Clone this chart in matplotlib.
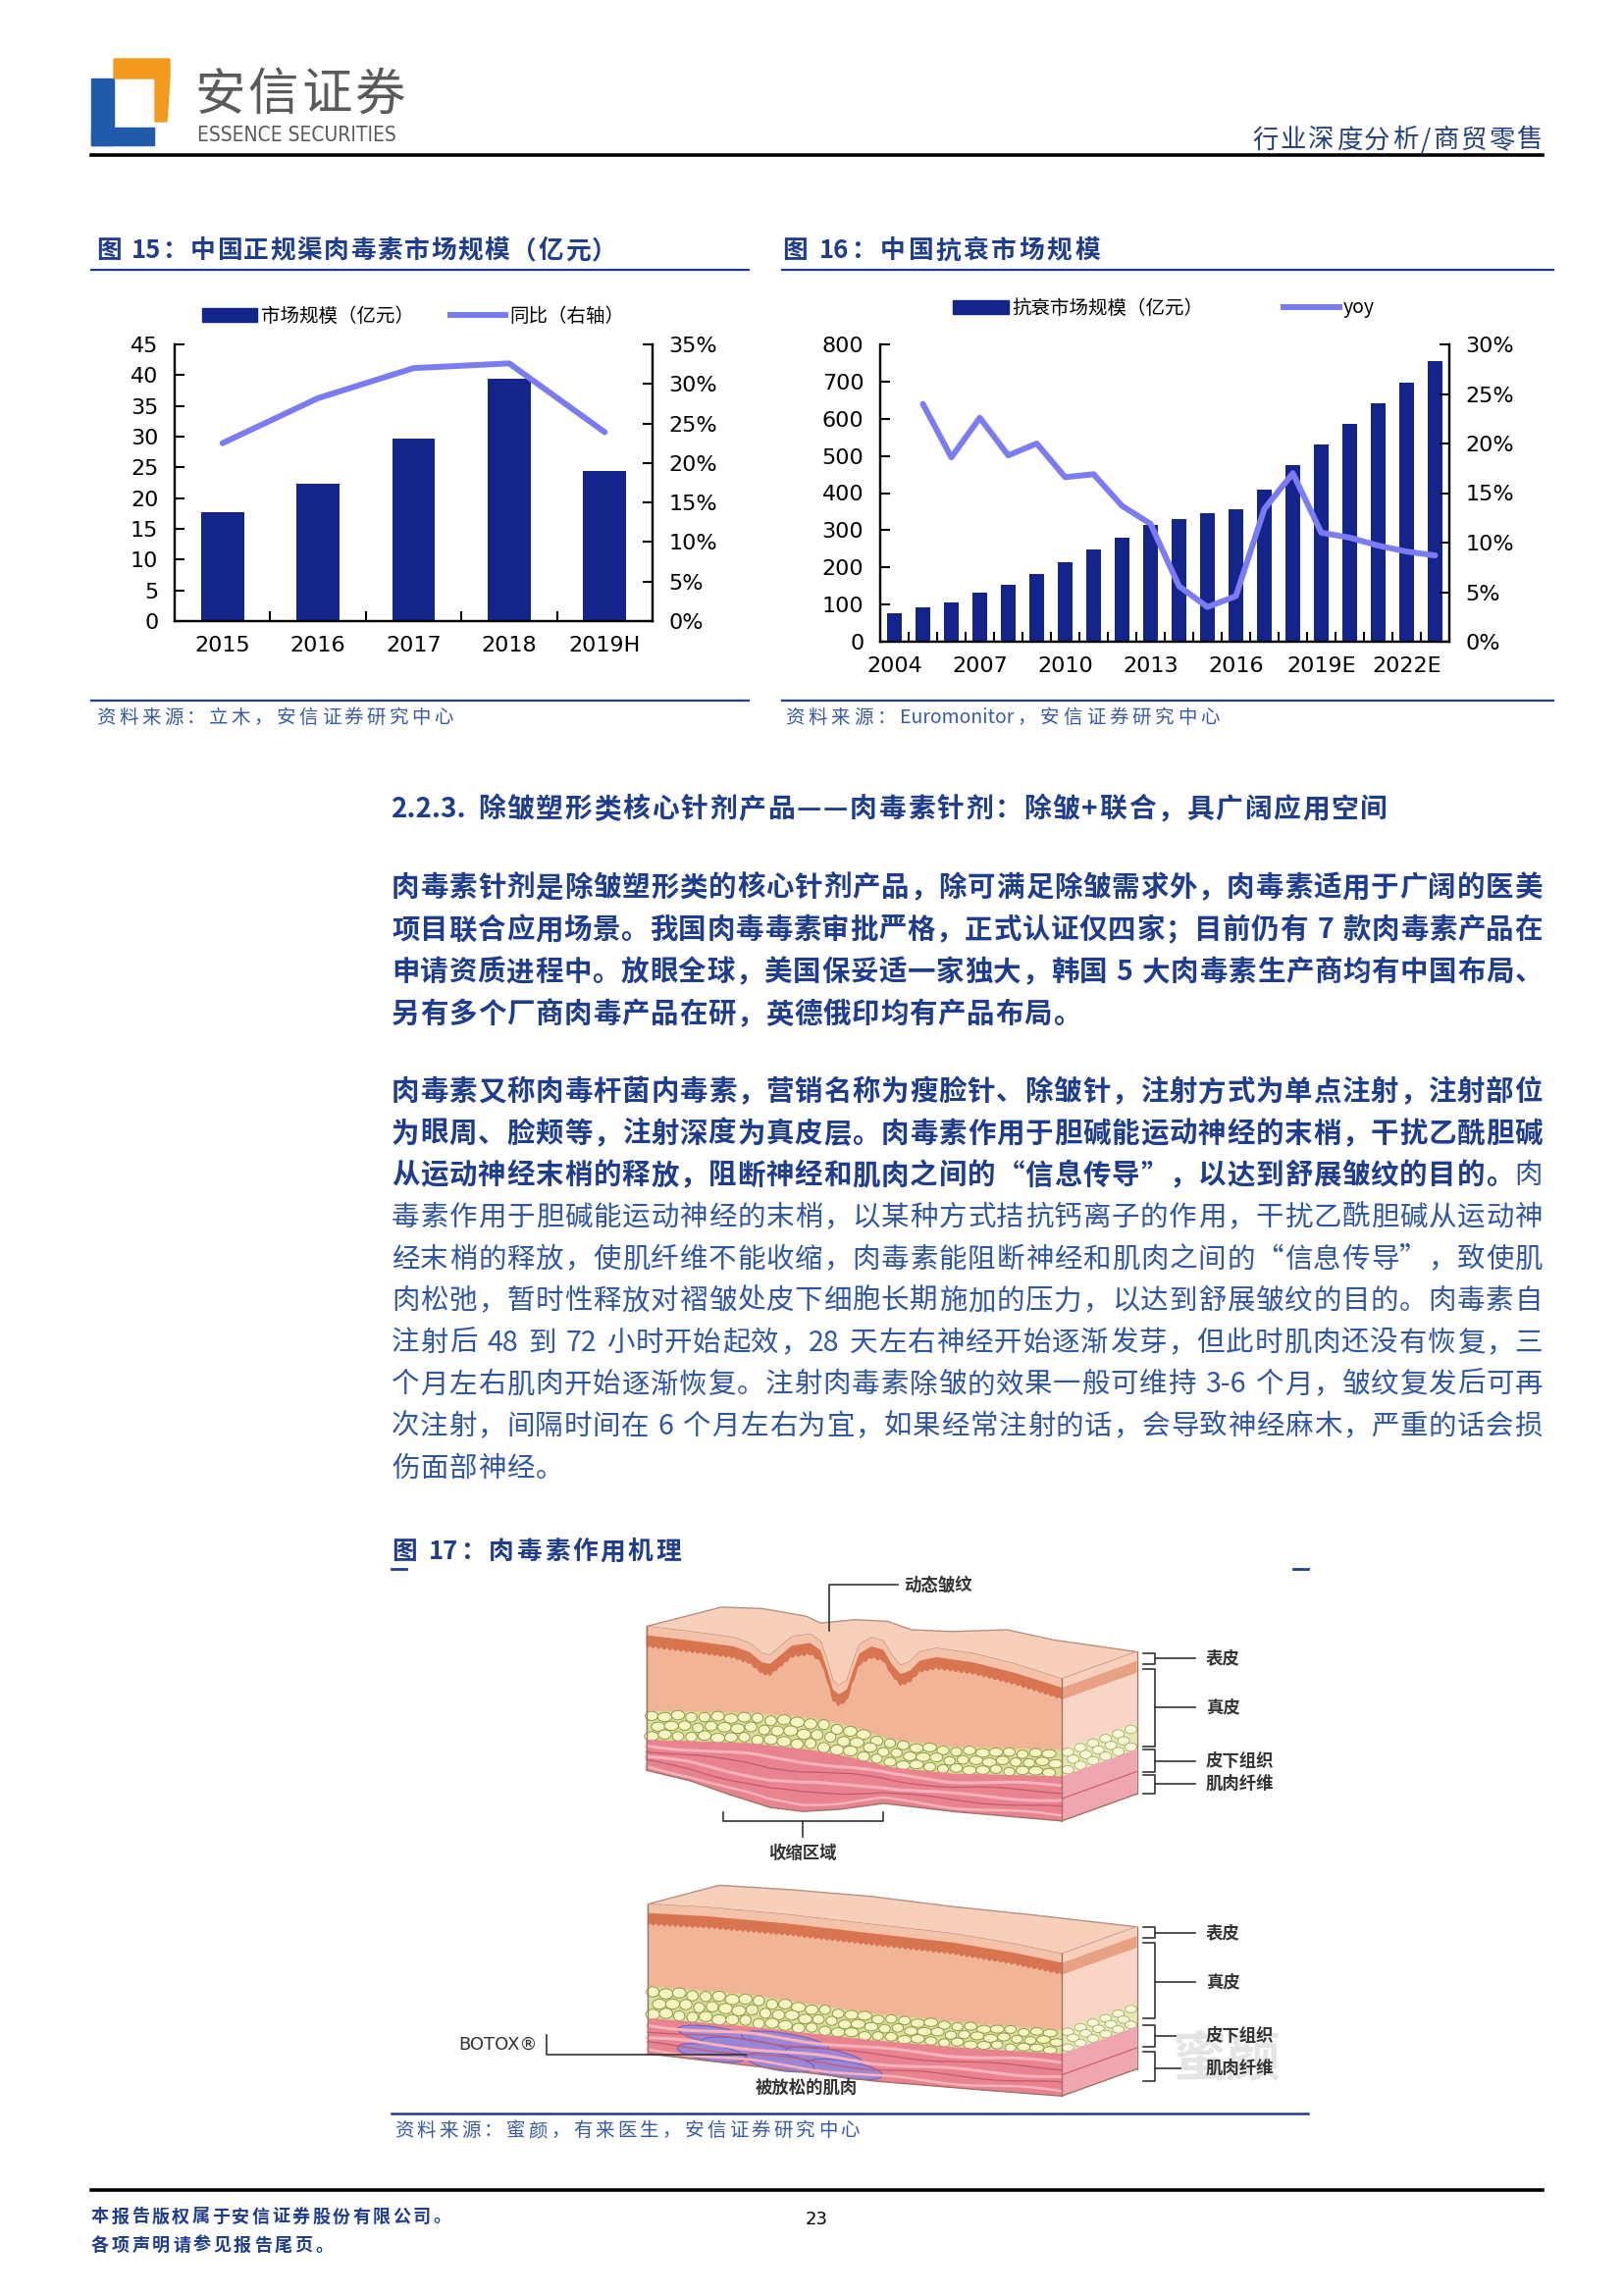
import re
import numpy as np
import matplotlib
matplotlib.use("Agg")
import matplotlib.pyplot as plt
from matplotlib.patches import Polygon, Rectangle, Ellipse
from matplotlib.lines import Line2D
from matplotlib.ticker import FuncFormatter, MultipleLocator, FixedLocator

# ---------------- data ----------------
years15 = ["2015", "2016", "2017", "2018", "2019H"]
market15 = [17.7, 22.3, 29.7, 39.4, 24.4]          # 亿元
yoy15 = [22.5, 28.2, 32.0, 32.6, 23.9]              # %

years16 = ["2004", "2005", "2006", "2007", "2008", "2009", "2010", "2011", "2012",
           "2013", "2014", "2015", "2016", "2017", "2018", "2019E", "2020E",
           "2021E", "2022E", "2023E"]
market16 = [77, 92, 106, 133, 153, 183, 214, 249, 280, 314, 331, 347, 357, 408,
            474, 530, 586, 642, 697, 755]
yoy16 = [np.nan, 24.0, 18.6, 22.6, 18.8, 20.0, 16.6, 16.9, 13.7, 11.9, 5.6, 3.5,
         4.6, 13.4, 17.0, 11.0, 10.5, 9.7, 9.1, 8.7]

para1 = [
    [("肉毒素针剂是除皱塑形类的核心针剂产品，除可满足除皱需求外，肉毒素适用于广阔的医美", "bold")],
    [("项目联合应用场景。我国肉毒毒素审批严格，正式认证仅四家；目前仍有 7 款肉毒素产品在", "bold")],
    [("申请资质进程中。放眼全球，美国保妥适一家独大，韩国 5 大肉毒素生产商均有中国布局、", "bold")],
    [("另有多个厂商肉毒产品在研，英德俄印均有产品布局。", "bold")],
]
para2 = [
    [("肉毒素又称肉毒杆菌内毒素，营销名称为瘦脸针、除皱针，注射方式为单点注射，注射部位", "bold")],
    [("为眼周、脸颊等，注射深度为真皮层。肉毒素作用于胆碱能运动神经的末梢，干扰乙酰胆碱", "bold")],
    [("从运动神经末梢的释放，阻断神经和肌肉之间的“信息传导”，以达到舒展皱纹的目的。", "bold"), ("肉", "normal")],
    [("毒素作用于胆碱能运动神经的末梢，以某种方式拮抗钙离子的作用，干扰乙酰胆碱从运动神", "normal")],
    [("经末梢的释放，使肌纤维不能收缩，肉毒素能阻断神经和肌肉之间的“信息传导”，致使肌", "normal")],
    [("肉松弛，暂时性释放对褶皱处皮下细胞长期施加的压力，以达到舒展皱纹的目的。肉毒素自", "normal")],
    [("注射后 48 到 72 小时开始起效，28 天左右神经开始逐渐发芽，但此时肌肉还没有恢复，三", "normal")],
    [("个月左右肌肉开始逐渐恢复。注射肉毒素除皱的效果一般可维持 3-6 个月，皱纹复发后可再", "normal")],
    [("次注射，间隔时间在 6 个月左右为宜，如果经常注射的话，会导致神经麻木，严重的话会损", "normal")],
    [("伤面部神经。", "normal")],
]

# ---------------- style ----------------
CJK = ["Noto Sans CJK SC", "DejaVu Sans"]
plt.rcParams["font.family"] = CJK
NAVY = "#1f3d8f"
TXT = "#2f55a5"
BAR = "#13248a"
LINE = "#7b7cf4"
W, H = 1655, 2340
PX = 100 / 72

fig = plt.figure(figsize=(16.55, 23.40), dpi=100)
page = fig.add_axes([0, 0, 1, 1])
page.set_xlim(0, W)
page.set_ylim(H, 0)
page.axis("off")
R = fig.canvas.get_renderer()

TOKEN = re.compile(r"[A-Za-z0-9.\-%®]+| |.")


def put_line(x0, y, segs, size, width=None, gap=0.0, family=CJK, color=None, stretch="normal"):
    items = []
    for txt, weight in segs:
        for tok in TOKEN.findall(txt):
            if tok == " ":
                items.append((None, size * PX * 0.28))
                continue
            c = color if color else (NAVY if weight == "bold" else TXT)
            t = page.text(x0, y + 0.36 * size * PX, tok, fontsize=size, fontweight=weight,
                          color=c, family=family, ha="left", va="baseline", fontstretch=stretch)
            items.append((t, t.get_window_extent(R).width))
    total = sum(w for _, w in items)
    if width is not None and len(items) > 1:
        gap = (width - total) / (len(items) - 1)
    x = x0
    for t, w in items:
        if t is not None:
            t.set_x(x)
        x += w + gap


# ---------------- header ----------------
page.add_patch(Rectangle((93, 80), 23, 68, color="#1f5ba8"))
page.add_patch(Rectangle((93, 130), 64, 18, color="#1f5ba8"))
page.add_patch(Polygon([(116, 60), (173, 60), (173, 80), (170, 124), (158, 124), (158, 80), (116, 80)],
                       closed=True, color="#f39a1e"))
put_line(198, 93, [("安信证券", "normal")], 37, width=215, color="#5a5a5a")
page.text(201, 138, "ESSENCE SECURITIES", fontsize=15, color="#5a5a5a", ha="left", va="center",
          family=["Liberation Sans Narrow", "DejaVu Sans"], fontstretch="condensed")
put_line(1276, 141, [("行业深度分析/商贸零售", "normal")], 19, width=296, color="#23407f")
page.plot([93, 1572], [158, 158], color="black", lw=2.6)

# ---------------- figure titles / rules ----------------
put_line(98, 254, [("图 15：中国正规渠肉毒素市场规模（亿元）", "bold")], 18.5, width=531)
put_line(797, 254, [("图 16：中国抗衰市场规模", "bold")], 18.5, width=324)
for xa, xb in [(93, 763), (797, 1583)]:
    page.plot([xa, xb], [275, 275], color=NAVY, lw=1.6)
    page.plot([xa, xb], [714, 714], color=NAVY, lw=1.6)
put_line(98, 730, [("资料来源：立木，安信证券研究中心", "normal")], 14, width=364, color="#3a5aa5")
put_line(800, 730, [("资料来源：Euromonitor，安信证券研究中心", "normal")], 14, width=443, color="#3a5aa5")


def pct(v, _):
    return f"{v:.0f}%"


def style_axes(a1, a2):
    for a in (a1, a2):
        a.spines["top"].set_visible(False)
        for s in ("left", "right", "bottom"):
            a.spines[s].set_linewidth(1.6)
            a.spines[s].set_color("black")
    for lab in a1.get_xticklabels() + a1.get_yticklabels() + a2.get_yticklabels():
        lab.set_family("DejaVu Sans")


# ---------------- chart 15 ----------------
ax1 = fig.add_axes([178 / W, 1 - 633 / H, (665 - 178) / W, (633 - 351) / H])
x15 = np.arange(len(years15))
ax1.bar(x15, market15, width=0.45, color=BAR, zorder=2)
ax1.set_xlim(-0.5, len(years15) - 0.5)
ax1.set_ylim(0, 45)
ax1.yaxis.set_major_locator(MultipleLocator(5))
ax1.set_xticks(x15)
ax1.set_xticklabels(years15)
ax1.xaxis.set_minor_locator(FixedLocator(np.arange(0.5, len(years15) - 0.5, 1)))
ax1.tick_params(axis="x", which="major", length=0, pad=11, labelsize=16)
ax1.tick_params(axis="x", which="minor", direction="in", length=7, width=1.5)
ax1.tick_params(axis="y", direction="in", length=7, width=1.5, labelsize=16, pad=12)
ax1b = ax1.twinx()
ax1b.plot(x15, yoy15, color=LINE, lw=4.3, solid_capstyle="round")
ax1b.set_ylim(0, 35)
ax1b.yaxis.set_major_locator(MultipleLocator(5))
ax1b.yaxis.set_major_formatter(FuncFormatter(pct))
ax1b.tick_params(axis="y", direction="in", length=7, width=1.5, labelsize=16, pad=12)
style_axes(ax1, ax1b)
fig.legend([Rectangle((0, 0), 1, 1, color=BAR), Line2D([], [], color=LINE, lw=4.3)],
           ["市场规模（亿元）", "同比（右轴）"], loc="center",
           bbox_to_anchor=(421 / W, 1 - 322 / H), ncol=2, frameon=False, fontsize=14,
           handlelength=2.9, columnspacing=1.9, handletextpad=0.2)

# ---------------- chart 16 ----------------
ax2 = fig.add_axes([897 / W, 1 - 654 / H, (1477 - 897) / W, (654 - 351) / H])
x16 = np.arange(len(years16))
ax2.bar(x16, market16, width=0.5, color=BAR, zorder=2)
ax2.set_xlim(-0.5, len(years16) - 0.5)
ax2.set_ylim(0, 800)
ax2.yaxis.set_major_locator(MultipleLocator(100))
ax2.set_xticks(x16[::3])
ax2.set_xticklabels(years16[::3])
ax2.xaxis.set_minor_locator(FixedLocator(np.arange(0.5, len(years16) - 0.5, 1)))
ax2.tick_params(axis="x", which="major", length=0, pad=11, labelsize=16)
ax2.tick_params(axis="x", which="minor", direction="in", length=7, width=1.5)
ax2.tick_params(axis="y", direction="in", length=7, width=1.5, labelsize=16, pad=12)
ax2b = ax2.twinx()
ax2b.plot(x16, yoy16, color=LINE, lw=4.3, solid_capstyle="round")
ax2b.set_ylim(0, 30)
ax2b.yaxis.set_major_locator(MultipleLocator(5))
ax2b.yaxis.set_major_formatter(FuncFormatter(pct))
ax2b.tick_params(axis="y", direction="in", length=7, width=1.5, labelsize=16, pad=12)
style_axes(ax2, ax2b)
fig.legend([Rectangle((0, 0), 1, 1, color=BAR), Line2D([], [], color=LINE, lw=4.3)],
           ["抗衰市场规模（亿元）", "yoy"], loc="center",
           bbox_to_anchor=(1186 / W, 1 - 314 / H), ncol=2, frameon=False, fontsize=14,
           handlelength=2.9, columnspacing=4.2, handletextpad=0.2)

# ---------------- body text ----------------
put_line(399, 823, [("2.2.3. 除皱塑形类核心针剂产品——肉毒素针剂：除皱+联合，具广阔应用空间", "bold")],
         20, width=1015)
BODY = 20.5
y = 903
for i, segs in enumerate(para1):
    last = i == len(para1) - 1
    put_line(399, y, segs, BODY, width=None if last else 1173, gap=0.8)
    y += 43
y = 1111
for i, segs in enumerate(para2):
    last = i == len(para2) - 1
    put_line(399, y, segs, BODY, width=None if last else 1173, gap=0.8)
    y += 42.6

# ---------------- figure 17 ----------------
put_line(399, 1580, [("图 17：肉毒素作用机理", "bold")], 18.5, width=295)
page.plot([399, 414], [1599, 1599], color=NAVY, lw=2)
page.plot([1318, 1333], [1599, 1599], color=NAVY, lw=2)
page.plot([399, 1333], [2154, 2154], color=NAVY, lw=1.8)
put_line(402, 2170, [("资料来源：蜜颜，有来医生，安信证券研究中心", "normal")], 14, width=474, color="#3a5aa5")

SX, SY = 2.42, 2.9


def band(xs, y1, y2, color):
    verts = np.vstack([np.column_stack([xs, y1]), np.column_stack([xs[::-1], y2[::-1]])])
    page.add_patch(Polygon(verts, closed=True, facecolor=color, edgecolor="none"))


def cells(xs, y1, y2, step=13.5):
    n = int((xs[-1] - xs[0]) / step)
    for j in range(3):
        for i in range(n + 1):
            cx = xs[0] + (i + 0.5 * (j % 2) + 0.4) * step
            if cx > xs[-1] - 5:
                continue
            a = np.interp(cx, xs, y1)
            b = np.interp(cx, xs, y2)
            cy = a + (j + 0.5) / 3 * (b - a) + 1.2 * np.sin(i * 2.3 + j)
            w = step * (0.95 + 0.12 * np.sin(i * 1.3 + j * 0.7))
            page.add_patch(Ellipse((cx, cy), w, (b - a) / 3 * 0.95, facecolor="#f4f5c2",
                                   edgecolor="#8f9a4a", lw=0.7))


def draw_block(spec, ox, oy):
    def conv(pts):
        a = np.array(pts, float)
        return ox + a[:, 0] / SX, oy + a[:, 1] / SY
    tx, ty = conv(spec["top"])
    xs = np.linspace(tx[0], tx[-1], 500)
    top = np.interp(xs, tx, ty)
    bx, by = conv(spec["bot"])
    bot = np.interp(xs, bx, by)
    fx, fy = conv(spec["fat_t"])
    ft = np.interp(xs, fx, fy)
    gx, gy = conv(spec["fat_b"])
    fb = np.interp(xs, gx, gy)
    dx, dy = spec["shift"][0] / SX, spec["shift"][1] / SY
    kx, ky = conv(spec["back"])
    xr = xs[-1]

    surf = np.vstack([np.column_stack([xs, top]), np.column_stack([kx[::-1], ky[::-1]])])
    page.add_patch(Polygon(surf, closed=True, facecolor="#f7d0bb", edgecolor="#b8907f", lw=1))

    epi1 = top + 9
    epi2 = top + 19 + 2.5 * np.abs(np.sin(xs * 0.55))
    band(xs, top, bot, "#f2b496")
    band(xs, top, epi1, "#f4c2a8")
    band(xs, epi1, epi2, "#d8744f")
    band(xs, ft, fb, "#d9de98")
    cells(xs, ft, fb)
    band(xs, fb, bot, "#e8838f")
    for v, c, lw in [(0.2, "#f6b3bd", 2.2), (0.35, "#c65a6c", 0.9), (0.55, "#f6b3bd", 2.2),
                     (0.7, "#c65a6c", 0.9), (0.88, "#f6b3bd", 1.8)]:
        page.plot(xs, fb + v * (bot - fb) + 1.5 * np.sin(xs * 0.045 + v * 9), color=c, lw=lw)

    # side face
    def quad(y1, y2, col):
        page.add_patch(Polygon([(xr, y1), (xr + dx, y1 + dy), (xr + dx, y2 + dy), (xr, y2)],
                               closed=True, facecolor=col, edgecolor="none"))
    quad(top[-1], epi1[-1], "#f7d0bb")
    quad(epi1[-1], epi2[-1], "#e8a283")
    quad(epi2[-1], ft[-1], "#f8d5c4")
    quad(ft[-1], fb[-1], "#e6e9b4")
    us = np.linspace(0.08, 0.92, 6)
    for j in range(3):
        for k, u in enumerate(us):
            uu = u + (0.07 if j % 2 else 0)
            if uu > 0.95:
                continue
            a = ft[-1] + uu * dy
            b = fb[-1] + uu * dy
            page.add_patch(Ellipse((xr + uu * dx, a + (j + 0.5) / 3 * (b - a)), 12, (b - a) / 3 * 0.95,
                                   facecolor="#f7f8d8", edgecolor="#a3ac66", lw=0.6))
    quad(fb[-1], bot[-1], "#efa6b0")
    page.plot([xr, xr + dx], [fb[-1] + 0.5 * (bot[-1] - fb[-1])] * 2 + np.array([0, dy]),
              color="#c65a6c", lw=0.8)

    ec = "#9c7468"
    page.plot([xs[0], xs[0]], [top[0], bot[0]], color=ec, lw=1)
    page.plot(xs, bot, color=ec, lw=1)
    page.plot([xr, xr], [top[-1], bot[-1]], color=ec, lw=1)
    page.plot([xr + dx, xr + dx], [top[-1] + dy, bot[-1] + dy], color=ec, lw=1)
    page.plot([xr, xr + dx], [bot[-1], bot[-1] + dy], color=ec, lw=1)
    return xs, fb, bot


top_block = dict(
    top=[(45, 225), (150, 240), (260, 258), (300, 275), (330, 305), (350, 310), (375, 285),
         (405, 255), (450, 248), (475, 270), (492, 330), (505, 385), (520, 400), (540, 385),
         (555, 330), (570, 280), (600, 258), (630, 268), (650, 310), (672, 340), (695, 330),
         (720, 300), (760, 290), (850, 305), (950, 335), (1070, 380)],
    back=[(230, 168), (330, 172), (440, 195), (475, 215), (560, 205), (640, 210), (700, 235),
          (800, 240), (935, 235), (1050, 265), (1255, 300)],
    bot=[(45, 650), (150, 680), (250, 722), (350, 760), (430, 772), (520, 766), (630, 748),
         (800, 772), (1070, 800)],
    fat_t=[(45, 475), (300, 480), (450, 495), (550, 520), (650, 560), (800, 580), (1070, 590)],
    fat_b=[(45, 560), (300, 570), (450, 590), (550, 612), (650, 642), (800, 660), (1070, 668)],
    shift=(185, -80),
)
bottom_block = dict(
    top=[(48, 118), (200, 128), (400, 150), (600, 178), (800, 205), (950, 235), (1070, 265)],
    back=[(225, 62), (400, 75), (600, 95), (800, 125), (1000, 150), (1255, 185)],
    bot=[(48, 560), (300, 595), (600, 640), (850, 665), (1070, 685)],
    fat_t=[(48, 360), (300, 385), (600, 440), (850, 470), (1070, 490)],
    fat_b=[(48, 455), (300, 480), (600, 520), (850, 545), (1070, 560)],
    shift=(185, -80),
)
draw_block(top_block, 640, 1580)
xs_b, fb_b, bot_b = draw_block(bottom_block, 640, 1900)

# relaxed (purple) muscle
for cx, v, w in [(730, 0.3, 80), (800, 0.28, 90), (765, 0.55, 100), (840, 0.55, 80),
                 (725, 0.78, 70), (860, 0.8, 80), (795, 0.82, 70)]:
    a = np.interp(cx, xs_b, fb_b)
    b = np.interp(cx, xs_b, bot_b)
    page.add_patch(Ellipse((cx, a + v * (b - a)), w, (b - a) * 0.42, angle=9,
                           facecolor="#9787da", edgecolor="#6d5cc0", lw=0.8, alpha=0.9))

# labels and leaders
LC = "#333333"
LAB = dict(fontsize=12.5, fontweight="bold", color="#333333", va="center")


def bracket(y1, y2, ym, text):
    page.plot([1165, 1177, 1177, 1165], [y1, y1, y2, y2], color=LC, lw=1.2)
    page.plot([1177, 1218], [ym, ym], color=LC, lw=1.2)
    page.text(1229, ym, text, ha="left", **LAB)


page.text(1250, 2100, "蜜颜", fontsize=40, color="#e4e4e4", ha="center", va="center", fontweight="bold")
bracket(1685, 1696, 1690, "表皮")
bracket(1701, 1780, 1740, "真皮")
bracket(1783, 1806, 1795, "皮下组织")
bracket(1809, 1828, 1818, "肌肉纤维")
bracket(1964, 1975, 1970, "表皮")
bracket(1980, 2057, 2020, "真皮")
bracket(2064, 2086, 2075, "皮下组织")
bracket(2091, 2121, 2108, "肌肉纤维")

page.plot([915, 845, 845], [1615, 1615, 1662], color=LC, lw=1.2)
page.text(921, 1615, "动态皱纹", ha="left", **LAB)
page.plot([737, 737, 900, 900], [1847, 1856, 1856, 1847], color=LC, lw=1.2)
page.plot([818, 818], [1856, 1872], color=LC, lw=1.2)
page.text(818, 1889, "收缩区域", ha="center", **LAB)
page.text(822, 2128, "被放松的肌肉", ha="center", **LAB)
page.text(548, 2084, "BOTOX®", ha="right", fontsize=13, color="#333333", va="center",
          family="DejaVu Sans")
page.plot([557, 557, 760], [2074, 2094, 2094], color=LC, lw=1.2)

# ---------------- footer ----------------
page.plot([93, 1572], [2232, 2232], color="black", lw=2.6)
put_line(93, 2258, [("本报告版权属于安信证券股份有限公司。", "bold")], 13, width=366)
put_line(93, 2287, [("各项声明请参见报告尾页。", "bold")], 13, width=246)
page.text(832, 2262, "23", fontsize=13, color="black", ha="center", va="center", family="DejaVu Sans")

fig.savefig("out.png", dpi=100)
